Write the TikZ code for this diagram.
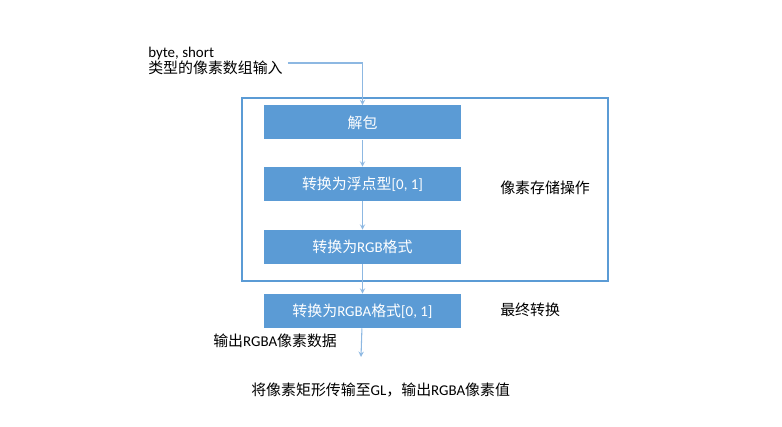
\documentclass[tikz,border=0pt]{standalone}
\usepackage{fontspec}
\setmainfont{Carlito}
\newfontfamily\cjk{Noto Sans CJK SC}
\usetikzlibrary{arrows,positioning}
\definecolor{boxblue}{HTML}{5B9BD5}
\definecolor{lineblue}{HTML}{8DB8E2}
\newcommand{\zh}[1]{{\cjk #1}}

\begin{document}
\begin{tikzpicture}[
      x=0.75pt,y=-0.75pt,
      font=\fontsize{11.2}{13.5}\selectfont,
      stepbox/.style={fill=boxblue,text=white,minimum width=147.75pt,minimum height=25.5pt,inner sep=0pt},
      group/.style={draw=boxblue,line width=1.2pt},
      flow/.style={draw=lineblue,line width=0.8pt,->,>=stealth},
      label/.style={inner sep=0pt,anchor=west}
    ]
    \useasboundingbox (0,0) rectangle (782,427);
    % Draw the storage group.
    \draw[group] (242,98) rectangle (608,281);
    % Draw the steps.
    \node[stepbox] (unpack) at (362.5,122.5) {\zh{解包}};
    \node[stepbox] (float) at (362.5,184) {\zh{转换为浮点型}[0, 1]};
    \node[stepbox] (rgb) at (362.5,247) {\zh{转换为}RGB\zh{格式}};
    \node[stepbox] (rgba) at (362.5,311) {\zh{转换为}RGBA\zh{格式}[0, 1]};
    % Draw the texts.
    \node[label,align=left] (input) at (148,61) {byte, short\\[-1pt]\zh{类型的像素数组输入}};
    \node[label] (store) at (500,188) {\zh{像素存储操作}};
    \node[label] (final) at (500,310) {\zh{最终转换}};
    \node[label] (outdata) at (213,341) {\zh{输出}RGBA\zh{像素数据}};
    \node[label] (result) at (251,390) {\zh{将像素矩形传输至}GL\zh{，输出}RGBA\zh{像素值}};
    \coordinate (out) at (361,357);
    % Draw the transitions.
    \draw[flow] (input.east) ++(5,2) -| (unpack.north);
    \draw[flow] (unpack) -- (float);
    \draw[flow] (float) -- (rgb);
    \draw[flow] (rgb) -- (rgba);
    \draw[flow] (rgba) -- (out);
\end{tikzpicture}
\end{document}
